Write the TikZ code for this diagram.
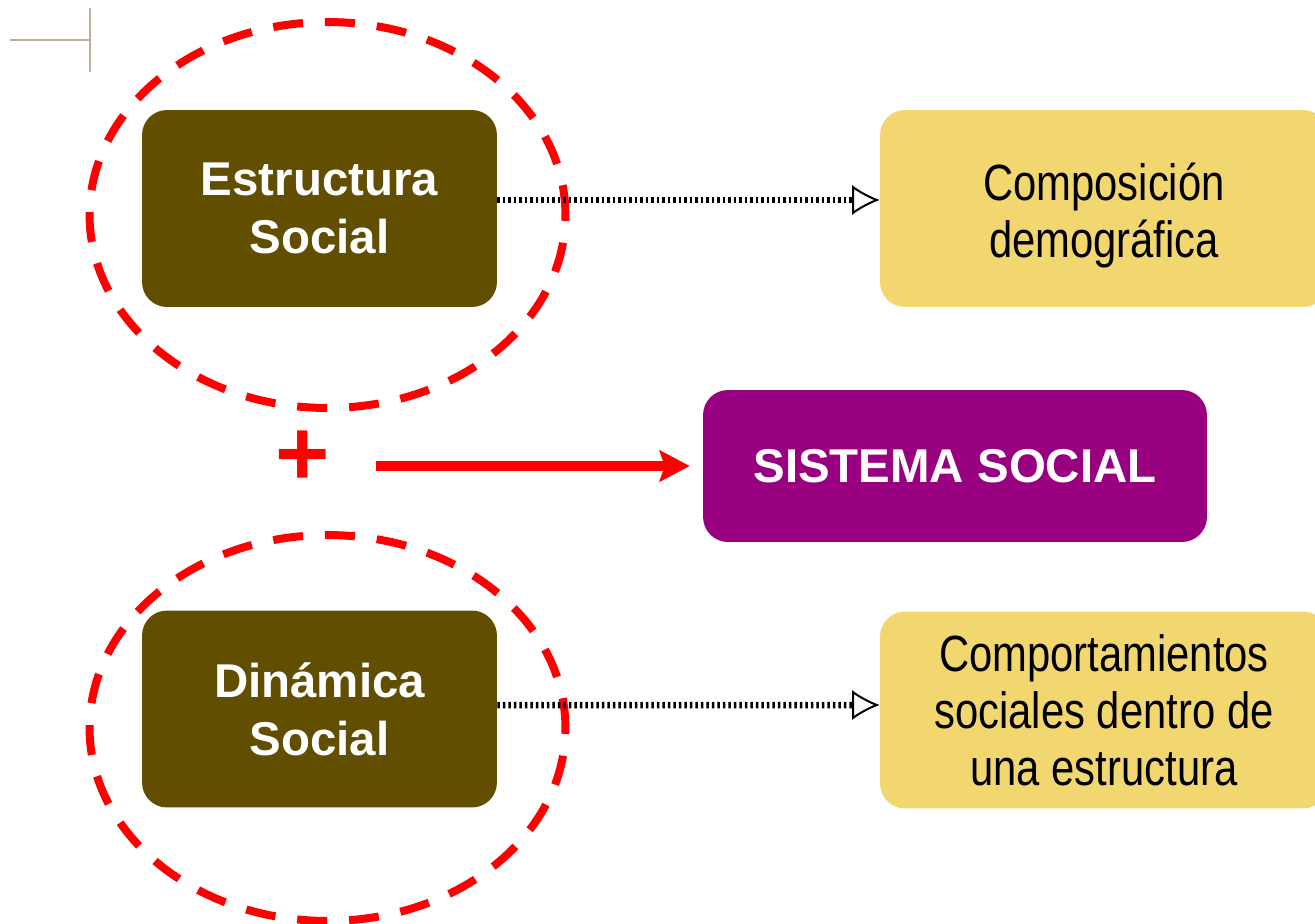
\documentclass[tikz,border=0pt]{standalone}
\usepackage{fontspec}
\setmainfont{Liberation Sans}
\newfontfamily\estrecha[FakeStretch=0.82]{Liberation Sans}
\usetikzlibrary{arrows.meta,shapes.geometric}
\definecolor{cafe}{RGB}{97,78,0}
\definecolor{morado}{RGB}{153,0,128}
\definecolor{amarilloclaro}{RGB}{242,214,112}
\definecolor{rojo}{RGB}{255,0,0}
\definecolor{marca}{RGB}{190,176,150}
\begin{document}
\begin{tikzpicture}[x=0.02cm, y=-0.02cm,
	caja/.style={rectangle, rounded corners=0.5cm, fill=cafe, text=white, font=\fontsize{27}{33}\selectfont\bfseries, align=center, minimum width=7.1cm, minimum height=3.94cm},
	nota/.style={rectangle, rounded corners=0.5cm, fill=amarilloclaro, text=black, font=\estrecha\fontsize{29}{32.5}\selectfont, align=center, minimum width=8.96cm, minimum height=3.94cm},
	anillo/.style={ellipse, draw=rojo, line width=0.16cm, dash pattern=on 0.6cm off 0.44cm, minimum width=9.52cm, minimum height=7.72cm, inner sep=0pt},
	punteada/.style={draw=black, line width=0.13cm, dash pattern=on 0.05cm off 0.06cm, -{Latex[open, length=0.55cm, width=0.6cm, line width=0.04cm]}},
	flecharoja/.style={draw=rojo, line width=0.2cm, -{Stealth[length=0.6cm, width=0.62cm, inset=0.1cm]}, shorten >=0.26cm}]
	\useasboundingbox (0,0) rectangle (1315,923);
	
	%marca arriba a la izquierda
	\draw[marca, line width=0.04cm] (10,40) -- (90,40);
	\draw[marca, line width=0.04cm] (90,8) -- (90,72);
	
	%anillos
	\node[anillo] (anilloA) at (327.5,215) {};
	\node[anillo] (anilloB) at (327.5,728) {};
	
	%cajas
	\node[caja] (estructura) at (319.5,208.5) {Estructura\\Social};
	\node[caja] (dinamica) at (319.5,709) {Dinámica\\Social};
	\node[caja, fill=morado, minimum width=10.08cm, minimum height=3.04cm] (sistema) at (955,466) {SISTEMA SOCIAL};
	
	%notas
	\node[nota] (composicion) at (1104,208.5) {\rule{0pt}{1.02cm}Composición\\demográfica};
	\node[nota] (comportamientos) at (1104,710) {Comportamientos\\sociales dentro de\\una estructura};
	
	%flechas punteadas
	\draw[punteada] ([yshift=0.17cm]estructura.east) -- ([yshift=0.17cm]composicion.west);
	\draw[punteada] ([yshift=0.08cm]dinamica.east) -- ([yshift=0.1cm]comportamientos.west);
	
	%suma
	\node[text=rojo, font=\fontsize{53}{60}\selectfont\bfseries, inner sep=0pt] (mas) at (303,458) {+};
	\coordinate (inicio) at (376,466);
	\draw[flecharoja] (inicio) -- (sistema);
\end{tikzpicture}
\end{document}
